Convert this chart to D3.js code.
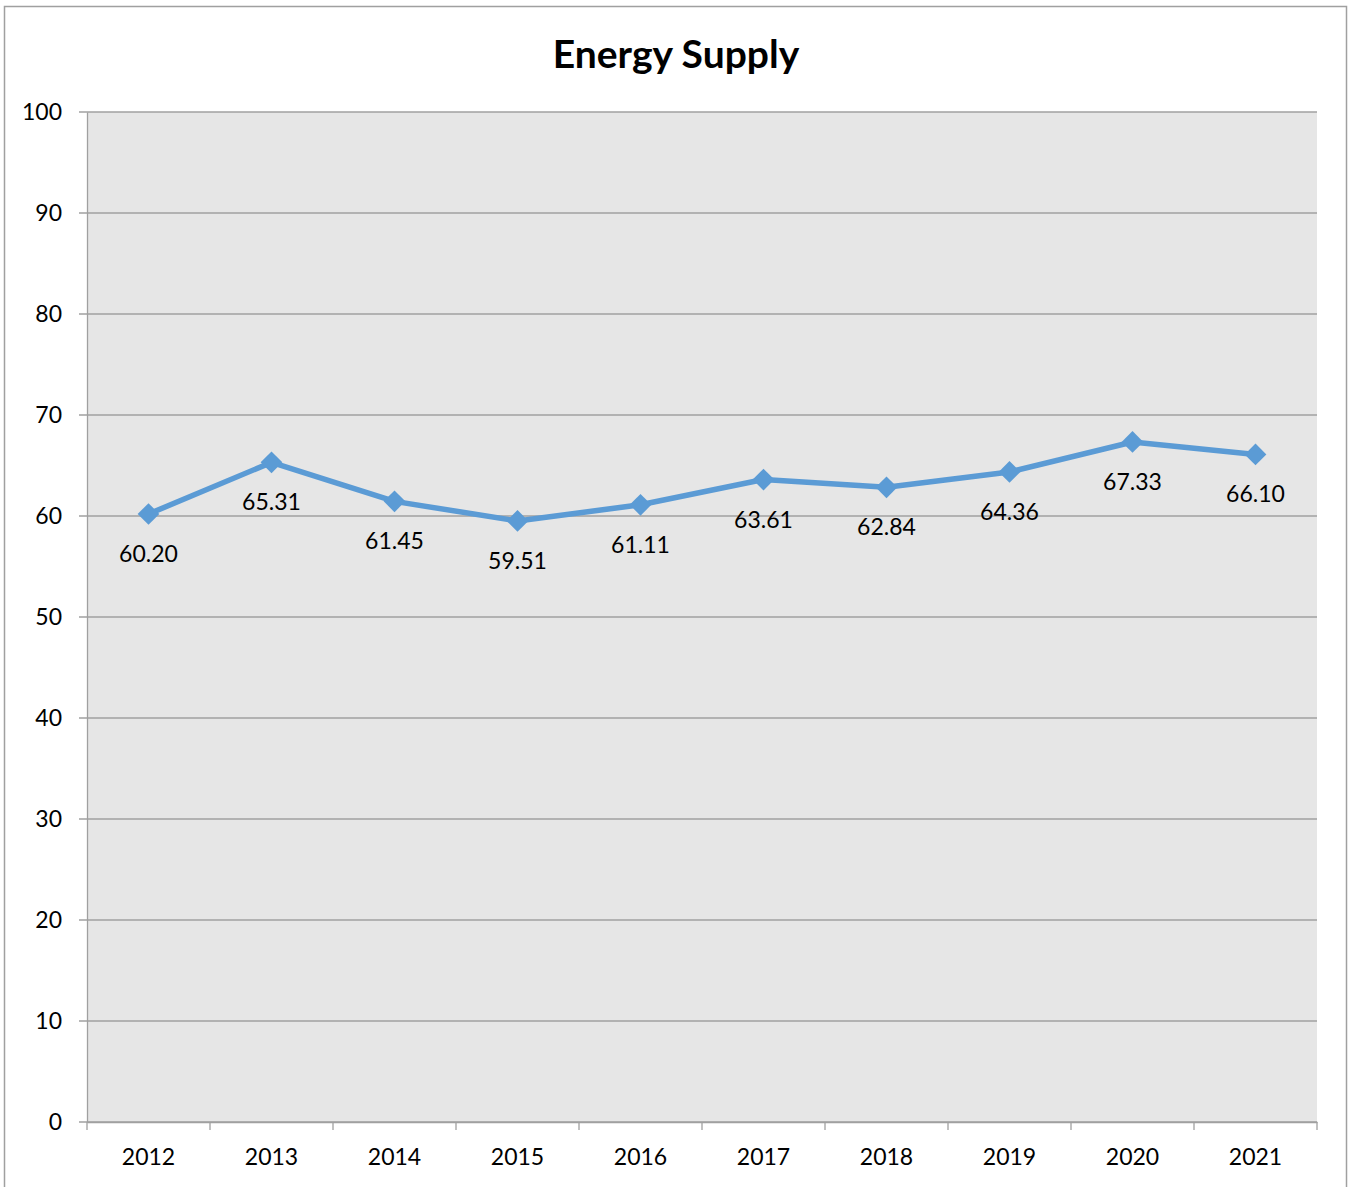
<!DOCTYPE html>
<html><head><meta charset="utf-8">
<script src="https://cdn.jsdelivr.net/npm/d3@7"></script>
<style>body{margin:0;background:#fff}svg{display:block}text{font-family:Lato,"Open Sans",sans-serif}</style>
</head><body>
<svg id="c" width="1354" height="1187"></svg>
<script>
const title = "Energy Supply";
const years = ["2012","2013","2014","2015","2016","2017","2018","2019","2020","2021"];
const values = [60.20,65.31,61.45,59.51,61.11,63.61,62.84,64.36,67.33,66.10];
const yTicks = [0,10,20,30,40,50,60,70,80,90,100];

const svg = d3.select("#c");
svg.append("rect").attr("x",4.5).attr("y",6.5).attr("width",1342).attr("height",1190)
  .attr("fill","#fff").attr("stroke","#a0a0a0").attr("stroke-width",1.5);

const L=87,R=1317,T=112,B=1122;
const x = d3.scaleBand().domain(years).range([L,R]).padding(0);
const y = d3.scaleLinear().domain([0,100]).range([B,T]);

svg.append("rect").attr("x",L).attr("y",T).attr("width",R-L).attr("height",B-T).attr("fill","#e6e6e6");

svg.append("g").selectAll("line").data(yTicks).join("line")
  .attr("x1",L-8).attr("x2",R).attr("y1",d=>y(d)).attr("y2",d=>y(d))
  .attr("stroke","#a0a0a0").attr("stroke-width",1.3);

const ya = svg.append("g").attr("transform",`translate(${L},0)`)
  .call(d3.axisLeft(y).tickValues(yTicks).tickSize(0).tickPadding(25));
ya.select(".domain").attr("stroke","#a0a0a0").attr("stroke-width",1.3);
ya.selectAll("text").attr("font-size",23).attr("fill","#000");

const xa = svg.append("g").attr("transform",`translate(0,${B})`)
  .call(d3.axisBottom(x).tickSize(0).tickPadding(27));
xa.select(".domain").attr("stroke","#a0a0a0").attr("stroke-width",1.3);
xa.selectAll("text").attr("font-size",23).attr("fill","#000");
const bounds = years.map(d=>x(d)).concat([R]);
svg.append("g").selectAll("line").data(bounds).join("line")
  .attr("x1",d=>d).attr("x2",d=>d).attr("y1",B).attr("y2",B+8)
  .attr("stroke","#a0a0a0").attr("stroke-width",1.3);

const cx = d=>x(d)+x.bandwidth()/2;
const line = d3.line().x((d,i)=>cx(years[i])).y(d=>y(d));
svg.append("path").datum(values).attr("d",line).attr("fill","none")
  .attr("stroke","#5b9bd5").attr("stroke-width",5.5).attr("stroke-linejoin","round");

svg.append("g").selectAll("path").data(values).join("path")
  .attr("d",d3.symbol(d3.symbolDiamond2,300))
  .attr("transform",(d,i)=>`translate(${cx(years[i])},${y(d)})`)
  .attr("fill","#5b9bd5");

svg.append("g").selectAll("text").data(values).join("text")
  .attr("x",(d,i)=>cx(years[i])).attr("y",d=>y(d)+48)
  .attr("text-anchor","middle").attr("font-size",23).attr("fill","#000")
  .text(d=>d.toFixed(2));

svg.append("text").attr("x",676).attr("y",68).attr("text-anchor","middle")
  .attr("font-size",39).attr("font-weight","bold").attr("fill","#000").text(title);
</script>
</body></html>
